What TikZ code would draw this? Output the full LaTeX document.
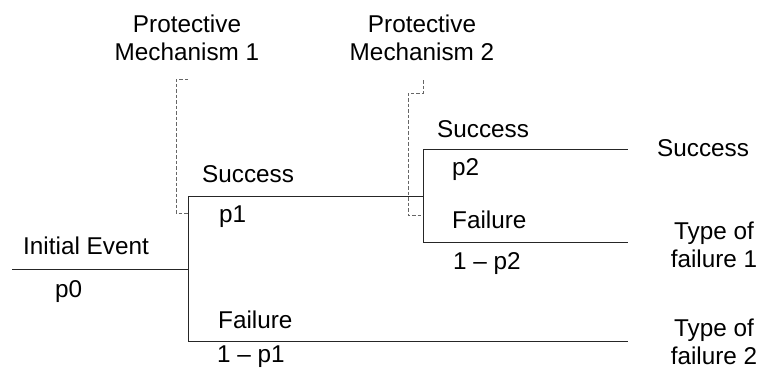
\documentclass[tikz,border=0pt]{standalone}
\usepackage{fontspec}
\setmainfont{Liberation Sans}
\begin{document}
\begin{tikzpicture}[x=1pt,y=-1pt,
  branch/.style={line width=0.9pt, draw=black!85},
  guide/.style={draw=black!60, line width=0.7pt, dash pattern=on 3.5pt off 2pt},
  lbl/.style={anchor=base west, inner sep=0pt, font=\fontsize{24.3}{28}\selectfont},
  lbltwo/.style={anchor=north, inner sep=0pt, align=center, font=\fontsize{24.3}{28}\selectfont}]
\useasboundingbox (0,0) rectangle (761,372);

% branch points of the event tree
\coordinate (start) at (12,269);
\coordinate (j1)    at (188,269);
\coordinate (j1s)   at (188,196);
\coordinate (j1f)   at (188,341);
\coordinate (j2)    at (423,196);
\coordinate (j2s)   at (423,149);
\coordinate (j2f)   at (423,242);
\coordinate (endS)  at (628,149);
\coordinate (endF1) at (628,242);
\coordinate (endF2) at (628,341);

% tree branches
\draw[branch] (start) -- (j1);
\draw[branch] (j1s) -- (j1f);
\draw[branch] (j1s) -- (j2);
\draw[branch] (j1f) -- (endF2);
\draw[branch] (j2s) -- (j2f);
\draw[branch] (j2s) -- (endS);
\draw[branch] (j2f) -- (endF1);

% dashed brackets marking the protective mechanisms
\coordinate (g1top) at (188,79);
\coordinate (g1bot) at (188,213);
\coordinate (g2top) at (423,80);
\coordinate (g2bot) at (423,215);
\draw[guide] (g1top) -- ++(-12,0) |- (g1bot);
\draw[guide] (g2top) -- ++(0,13) -- ++(-15,0) |- (g2bot);

% headings
\node[lbltwo] (pm1) at (187,12.4) {\strut Protective\\Mechanism 1};
\node[lbltwo] (pm2) at (422,12.4) {\strut Protective\\Mechanism 2};

% branch labels
\node[lbl] (ie)  at (23,254)  {Initial Event};
\node[lbl] (p0)  at (55,297)  {p0};
\node[lbl] (s1)  at (202,182) {Success};
\node[lbl] (p1)  at (219,222) {p1};
\node[lbl] (f1)  at (218,328) {Failure};
\node[lbl] (q1)  at (217,362) {1 -- p1};
\node[lbl] (s2)  at (437,137) {Success};
\node[lbl] (p2)  at (452,175) {p2};
\node[lbl] (f2)  at (452,228) {Failure};
\node[lbl] (q2)  at (453,269) {1 -- p2};

% outcomes
\node[lbl] (outS) at (657,156) {Success};
\node[lbltwo] (outF1) at (714,219.4) {\strut Type of\\failure 1};
\node[lbltwo] (outF2) at (714,316.4) {\strut Type of\\failure 2};
\end{tikzpicture}
\end{document}
